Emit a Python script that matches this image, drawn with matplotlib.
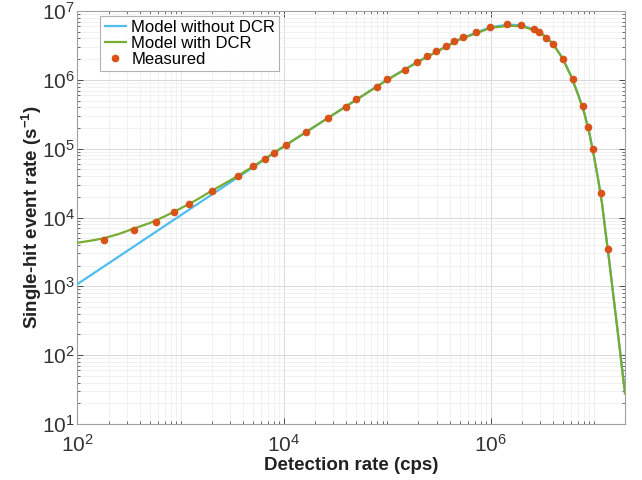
import matplotlib
matplotlib.use("Agg")
import matplotlib.pyplot as plt
from matplotlib.ticker import LogLocator, NullFormatter, FixedLocator, FixedFormatter

plt.rcParams['font.family'] = ['Liberation Sans', 'DejaVu Sans']
plt.rcParams['mathtext.fontset'] = 'custom'
plt.rcParams['mathtext.rm'] = 'Liberation Sans'
plt.rcParams['mathtext.bf'] = 'Liberation Sans:bold'
plt.rcParams['mathtext.it'] = 'Liberation Sans:italic'

# Model without DCR
x_nodcr = [1e2, 2e2, 5e2, 1e3, 2e3, 5e3, 1e4, 2e4, 5e4, 1e5, 2e5, 5e5, 1e6,
           1.5e6, 2e6, 3e6, 4e6, 5e6, 6e6, 7e6, 8e6, 9e6, 1e7, 1.1e7, 1.2e7,
           1.3e7, 1.4e7, 1.5e7, 1.6e7, 1.7e7, 1.8e7, 1.9e7, 2e7]
y_nodcr = [1080, 2160, 5400, 10800, 21600, 53500, 108000, 212000, 515000,
           1.01e6, 1.86e6, 3.92e6, 5.85e6, 6.35e6, 6.2e6, 5.05e6, 3.4e6,
           2.05e6, 1.15e6, 6.3e5, 3.5e5, 1.75e5, 7.9e4, 3.6e4, 1.6e4,
           6.0e3, 2.5e3, 1.05e3, 470, 222, 108, 54, 28]

# Model with DCR
x_dcr = [1e2, 1.4e2, 1.8e2, 2.5e2, 3.5e2, 5e2, 7e2, 1e3, 1.4e3, 2e3, 3e3,
         5e3, 1e4, 2e4, 5e4, 1e5, 2e5, 5e5, 1e6, 1.5e6, 2e6, 3e6, 4e6, 5e6,
         6e6, 7e6, 8e6, 9e6, 1e7, 1.1e7, 1.2e7, 1.3e7, 1.4e7, 1.5e7, 1.6e7,
         1.7e7, 1.8e7, 1.9e7, 2e7]
y_dcr = [4300, 4650, 5000, 5750, 6900, 8300, 10400, 13600, 17800, 24500,
         34500, 55000, 109000, 212000, 512000, 1.0e6, 1.84e6, 3.85e6, 5.7e6,
         6.1e6, 6.0e6, 4.95e6, 3.35e6, 2.02e6, 1.13e6, 6.2e5, 3.45e5, 1.73e5,
         7.8e4, 3.55e4, 1.58e4, 5.9e3, 2.48e3, 1.04e3, 465, 220, 107, 53, 28]

# Measured points
x_meas = [180, 354, 570, 851, 1197, 2012, 3622, 4980, 6550, 7940, 10450,
          16480, 26670, 39540, 49320, 78880, 98400, 148000, 192000, 240000,
          295000, 366000, 444000, 543000, 726000, 976000, 1.45e6, 1.95e6,
          2.66e6, 2.93e6, 3.42e6, 4.03e6, 5.07e6, 6.24e6, 7.8e6, 8.71e6,
          9.73e6, 1.165e7, 1.36e7]
y_meas = [4740, 6500, 8570, 11970, 15660, 23930, 39970, 55300, 70600, 85500,
          112800, 176000, 281000, 402000, 520000, 794000, 1.016e6, 1.375e6,
          1.80e6, 2.24e6, 2.65e6, 3.07e6, 3.62e6, 4.15e6, 5.0e6, 5.91e6,
          6.41e6, 6.32e6, 5.42e6, 4.90e6, 4.09e6, 3.28e6, 1.99e6, 1.02e6,
          4.21e5, 2.04e5, 9.77e4, 2.26e4, 3510]

# Tick labels
x_ticks = [1e2, 1e4, 1e6]
x_ticklabels = [r'$\mathdefault{10^{2}}$', r'$\mathdefault{10^{4}}$', r'$\mathdefault{10^{6}}$']
x_unlabeled_decades = [1e3, 1e5, 1e7]
y_ticks = [1e1, 1e2, 1e3, 1e4, 1e5, 1e6, 1e7]
y_ticklabels = [r'$\mathdefault{10^{1}}$', r'$\mathdefault{10^{2}}$', r'$\mathdefault{10^{3}}$',
                r'$\mathdefault{10^{4}}$', r'$\mathdefault{10^{5}}$', r'$\mathdefault{10^{6}}$',
                r'$\mathdefault{10^{7}}$']

fig = plt.figure(figsize=(6.42, 4.80), dpi=100)
ax = fig.add_axes([0.1207, 0.1167, 0.8528, 0.8603])

ax.plot(x_nodcr, y_nodcr, color='#4DBEEE', lw=1.6, label='Model without DCR', zorder=3)
ax.plot(x_dcr, y_dcr, color='#77AC30', lw=1.6, label='Model with DCR', zorder=4)
ax.plot(x_meas, y_meas, linestyle='none', marker='o', ms=4.5, color='#D95319',
        label='Measured', zorder=5)

ax.set_xscale('log')
ax.set_yscale('log')
ax.set_xlim(1e2, 2e7)
ax.set_ylim(1e1, 1e7)

ax.xaxis.set_major_locator(FixedLocator(x_ticks))
ax.xaxis.set_major_formatter(FixedFormatter(x_ticklabels))
ax.xaxis.set_minor_locator(LogLocator(base=10, subs=tuple(range(1, 10)), numticks=50))
ax.xaxis.set_minor_formatter(NullFormatter())
ax.yaxis.set_major_locator(FixedLocator(y_ticks))
ax.yaxis.set_major_formatter(FixedFormatter(y_ticklabels))
ax.yaxis.set_minor_locator(LogLocator(base=10, subs=tuple(range(2, 10)), numticks=50))
ax.yaxis.set_minor_formatter(NullFormatter())

ax.grid(True, which='major', color='#d9d9d9', lw=0.7)
ax.grid(True, which='minor', color='#efefef', lw=0.6)
for xv in x_unlabeled_decades:
    ax.axvline(xv, color='#d9d9d9', lw=0.7, zorder=0.5)
ax.set_axisbelow(True)

ax.tick_params(which='both', direction='in', top=True, right=True, colors='#333333')
ax.tick_params(which='major', length=4, width=0.6, labelsize=15)
ax.tick_params(axis='x', which='major', pad=7)
ax.tick_params(axis='y', which='major', pad=2)
ax.tick_params(which='minor', length=2, width=0.5)
for s in ax.spines.values():
    s.set_color('#a0a0a0')
    s.set_linewidth(0.8)

ax.set_xlabel('Detection rate (cps)', fontsize=13.5, fontweight='bold', color='#222222', labelpad=1)
ax.set_ylabel(r'Single-hit event rate (s$^{\mathbf{-1}}$)', fontsize=13.5,
              fontweight='bold', color='#222222', labelpad=-2)

leg = ax.legend(loc='upper left', bbox_to_anchor=(0.042, 0.988), fontsize=12,
                frameon=True, fancybox=False, edgecolor='#a0a0a0',
                handlelength=1.3, handletextpad=0.3, borderpad=0.25,
                labelspacing=0.05, borderaxespad=0.0)
leg.get_frame().set_linewidth(0.8)

fig.savefig('out.png', dpi=100)
